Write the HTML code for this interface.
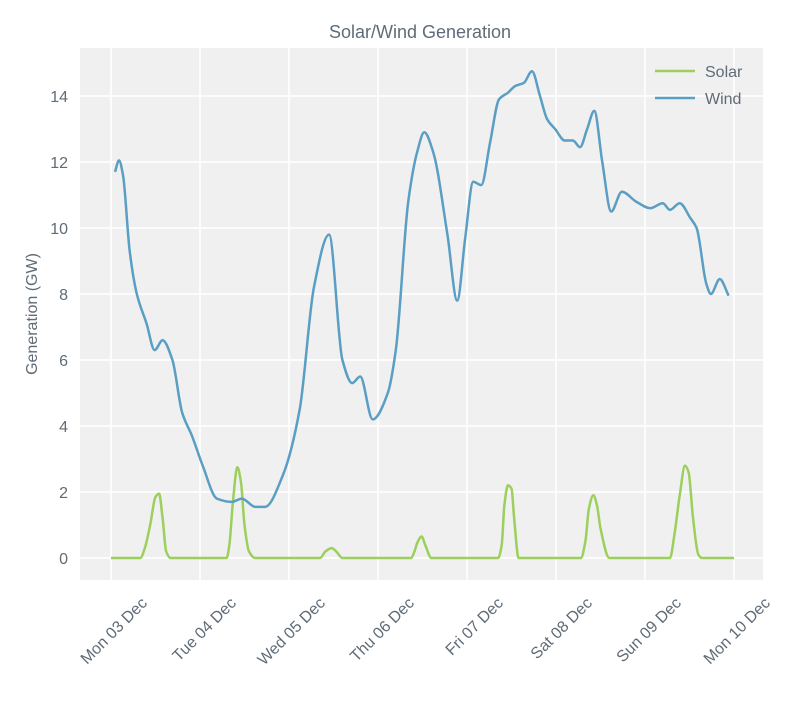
<!DOCTYPE html>
<html><head><meta charset="utf-8"><style>
body{margin:0;background:#fff;}
svg text{font-family:"Liberation Sans",sans-serif;fill:#5f6b76;}
</style></head><body>
<svg id="chart" width="800" height="700" xmlns="http://www.w3.org/2000/svg">
<rect x="80" y="48" width="683" height="532" fill="#f0f0f0"/>
<g id="grid"></g>
<g id="series"></g>
<g id="ticks"></g>
<text x="420" y="38" text-anchor="middle" font-size="18">Solar/Wind Generation</text>
<text transform="translate(37,314) rotate(-90)" text-anchor="middle" font-size="16">Generation (GW)</text>
<g>
<line x1="655" y1="71" x2="695" y2="71" stroke="#9ccf5c" stroke-width="2.5"/>
<text x="705" y="77" font-size="16">Solar</text>
<line x1="655" y1="98" x2="695" y2="98" stroke="#5a9ec4" stroke-width="2.5"/>
<text x="705" y="104" font-size="16">Wind</text>
</g>
</svg>
<script>
const xLabels=["Mon 03 Dec","Tue 04 Dec","Wed 05 Dec","Thu 06 Dec","Fri 07 Dec","Sat 08 Dec","Sun 09 Dec","Mon 10 Dec"];
const yTicks=[0,2,4,6,8,10,12,14];
const windDays=[0.045,0.09,0.135,0.21,0.29,0.4,0.49,0.58,0.69,0.8,0.91,1.03,1.19,1.36,1.47,1.62,1.73,1.93,2.12,2.28,2.45,2.6,2.71,2.8,2.94,3.11,3.2,3.34,3.44,3.52,3.62,3.78,3.89,3.98,4.07,4.16,4.26,4.36,4.46,4.54,4.64,4.73,4.82,4.9,4.99,5.1,5.19,5.27,5.35,5.43,5.52,5.62,5.74,5.9,6.06,6.2,6.28,6.39,6.51,6.58,6.69,6.74,6.84,6.94];
const windVals=[11.7,12.05,11.6,9.3,8.0,7.1,6.3,6.6,6.0,4.4,3.7,2.8,1.8,1.7,1.8,1.55,1.55,2.5,4.5,8.2,9.8,6.0,5.3,5.5,4.2,5.0,6.3,10.8,12.3,12.9,12.3,9.8,7.8,9.7,11.4,11.3,12.6,13.9,14.1,14.3,14.4,14.75,14.0,13.3,13.0,12.65,12.65,12.45,13.0,13.55,12.0,10.5,11.1,10.8,10.6,10.75,10.55,10.75,10.3,10.0,8.3,8.0,8.45,7.95];
const solarDays=[0,0.33,0.38,0.44,0.5,0.54,0.58,0.62,0.67,1.3,1.33,1.37,1.42,1.46,1.5,1.55,1.62,2.35,2.41,2.48,2.53,2.6,3.37,3.41,3.44,3.49,3.53,3.6,4.35,4.39,4.42,4.46,4.5,4.53,4.58,5.28,5.33,5.37,5.42,5.46,5.5,5.6,6.28,6.33,6.39,6.45,6.49,6.54,6.6,6.64,7.0];
const solarVals=[0,0,0.3,1.0,1.85,1.95,1.2,0.2,0,0,0.4,1.7,2.75,2.3,1.0,0.2,0,0,0.2,0.3,0.2,0,0,0.2,0.45,0.65,0.4,0,0,0.4,1.6,2.2,2.1,1.2,0,0,0.5,1.5,1.9,1.6,0.9,0,0,0.7,1.9,2.8,2.6,1.2,0.1,0,0];

const NS="http://www.w3.org/2000/svg";
const xS=d=>111+d*89;
const yS=v=>558-v*33;
function mk(tag,attrs,parent){const e=document.createElementNS(NS,tag);for(const k in attrs)e.setAttribute(k,attrs[k]);parent.appendChild(e);return e;}
const grid=document.getElementById('grid'),ticks=document.getElementById('ticks'),series=document.getElementById('series');
xLabels.forEach((l,i)=>{
  const x=xS(i);
  const g=mk('line',{x1:x,y1:48,x2:x,y2:580,stroke:'#fff','stroke-width':1.5},grid);
  
  
  const ax=x+37,ay=604;
  const t=mk('text',{x:ax,y:ay,'font-size':16,'text-anchor':'end',transform:`rotate(-45 ${ax} ${ay})`},ticks);
  t.textContent=l;
  
  
});
yTicks.forEach(v=>{
  const y=yS(v);
  const g=mk('line',{x1:80,y1:y,x2:763,y2:y,stroke:'#fff','stroke-width':1.5},grid);
  
  
  const t=mk('text',{x:68,y:y+6,'font-size':16,'text-anchor':'end'},ticks);
  t.textContent=v;
  
  
});
function monotone(ds,vs){
  const X=ds.map(xS),Y=vs.map(yS),n=X.length;
  const dx=[],m=[];
  for(let i=0;i<n-1;i++){dx.push(X[i+1]-X[i]);m.push((Y[i+1]-Y[i])/dx[i]);}
  const t=[m[0]];
  for(let i=1;i<n-1;i++){
    if(m[i-1]*m[i]<=0)t.push(0);
    else{const w1=2*dx[i]+dx[i-1],w2=dx[i]+2*dx[i-1];t.push((w1+w2)/(w1/m[i-1]+w2/m[i]));}
  }
  t.push(m[n-2]);
  let s=`M${X[0]},${Y[0]}`;
  for(let i=0;i<n-1;i++){
    const h=dx[i]/3;
    s+=`C${X[i]+h},${Y[i]+t[i]*h} ${X[i+1]-h},${Y[i+1]-t[i+1]*h} ${X[i+1]},${Y[i+1]}`;
  }
  return s;
}
const sl=mk('path',{d:monotone(solarDays,solarVals),fill:'none',stroke:'#9ccf5c','stroke-width':2.5},series);


const wl=mk('path',{d:monotone(windDays,windVals),fill:'none',stroke:'#5a9ec4','stroke-width':2.5},series);


</script>
</body></html>
